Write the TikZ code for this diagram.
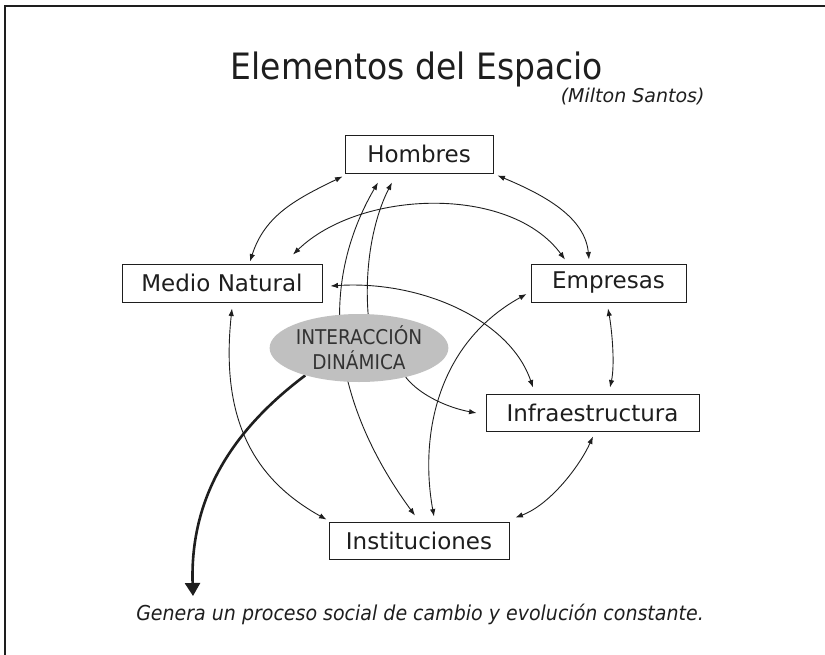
\documentclass[tikz,border=0pt]{standalone}
\usepackage{fontspec}
\setmainfont{DejaVu Sans}
\usetikzlibrary{arrows.meta,calc,shapes.geometric}
\pgfdeclarelayer{bg}
\pgfsetlayers{bg,main}
\definecolor{ink}{HTML}{1E1E1E}
\definecolor{ellfill}{HTML}{C0C0C0}
\definecolor{elltext}{HTML}{333333}
\begin{document}
\begin{tikzpicture}[x=1pt,y=-1pt,
  box/.style={draw=ink,line width=0.9pt,fill=white,text=ink,inner sep=0pt,
              font=\fontsize{23}{27}\selectfont},
  tip/.tip={Latex[length=7.5pt,width=5.5pt]},
  link/.style={draw=ink,line width=0.9pt,tip-tip},
  onelink/.style={draw=ink,line width=0.9pt,-tip},
]
\useasboundingbox (0,0) rectangle (825,654);
% frame
\draw[ink,line width=2pt] (4.5,660) -- (4.5,6) -- (830,6);

% texts
\node[anchor=base,text=ink,font=\fontsize{33}{38}\selectfont] (title) at (417,79) {\scalebox{1}[1.1]{Elementos del Espacio}};
\node[anchor=base east,text=ink,font=\fontsize{19}{23}\selectfont\itshape] (author) at (708,102) {(Milton Santos)};
\node[anchor=base,text=ink,font=\fontsize{19}{23}\selectfont\itshape] (gen) at (420,620) {\scalebox{1}[1.08]{Genera un proceso social de cambio y evolución constante.}};

% boxes
\node[box,minimum width=148pt,minimum height=38pt] (h) at (419,154) {Hombres};
\node[box,minimum width=200pt,minimum height=38pt] (mn) at (222,283) {Medio Natural};
\node[box,minimum width=155pt,minimum height=38pt] (emp) at (608.5,283) {Empresas};
\node[box,minimum width=213pt,minimum height=37pt] (inf) at (592.5,412.5) {Infraestructura};
\node[box,minimum width=180pt,minimum height=37pt] (inst) at (419,540.5) {Instituciones};
\node[ellipse,fill=ellfill,draw=none,minimum width=168pt,minimum height=68pt,inner sep=0pt,
      align=center,text=elltext,font=\fontsize{18.5}{25}\selectfont] (ell) at (359,348)
      {\scalebox{1}[1.1]{INTERACCIÓN}\\\scalebox{1}[1.1]{DINÁMICA}};
\coordinate (arrowend) at (193,596);

\begin{pgfonlayer}{bg}
% 1 Medio Natural - Hombres
\draw[link] ($(mn.north)+(28,-2)$) .. controls +(15,-47) and +(-45,22) .. ($(h.south west)+(-2,3)$);
% 2 Hombres - Empresas
\draw[link] ($(h.south east)+(4,2)$) .. controls +(48,20) and +(-4,-42) .. ($(emp.north)+(-19.5,-4)$);
% 3 Medio Natural - Empresas
\draw[link] ($(mn.north)+(71,-9)$) .. controls +(67,-65) and +(-55,-75) .. ($(emp.north)+(-43.5,-4)$);
% 4 Medio Natural - Instituciones
\draw[link] ($(mn.south)+(10,6)$) .. controls +(-12,112) and +(-72,-40) .. ($(inst.north west)+(-2,-2)$);
% 5 Empresas - Infraestructura
\draw[link] ($(emp.south)+(-0.5,6)$) .. controls +(4,22) and +(5,-23) .. ($(inf.north)+(17.5,-6)$);
% 6 Infraestructura - Instituciones
\draw[link] ($(inf.south)+(0.5,5)$) .. controls +(-13,29) and +(35,-13) .. ($(inst.north east)+(6,-4)$);
% 7 Medio Natural - Infraestructura
\draw[link] ($(mn.east)+(8,3)$) .. controls +(90,-6) and +(-23,-68) .. ($(inf.north)+(-59.5,-6)$);
% 8 Interaccion -> Infraestructura
\draw[onelink] (ell.-32) .. controls +(15,19) and +(-27,-5) .. ($(inf.west)+(-9,0.5)$);
% 9 Instituciones - Empresas
\draw[link] ($(inst.north)+(15,-5)$) .. controls +(-14,-77) and +(-92,51) .. ($(emp.west)+(-4,11)$);
% 10a Hombres - Instituciones
\draw[link] ($(h.south)+(-41,9)$) .. controls +(-60,103) and +(-85,-116) .. ($(inst.north)+(-4,-6)$);
% 10b Interaccion -> Hombres
\draw[onelink] (ell.75) .. controls +(-4,-53) and +(-17,33) .. ($(h.south)+(-27,9)$);
% 11 thick arrow
\draw[ink,line width=2.6pt,-{Triangle[length=13pt,width=15pt]}] (ell.207) .. controls +(-76,57) and +(-3,-96) .. (arrowend);
\end{pgfonlayer}
\end{tikzpicture}
\end{document}
